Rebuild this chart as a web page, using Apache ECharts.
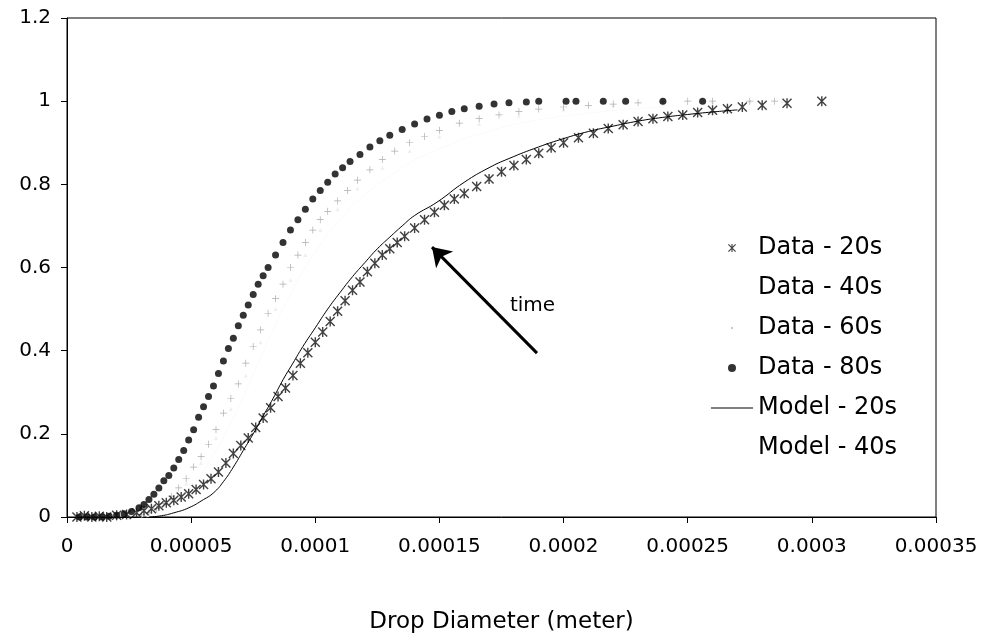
<!DOCTYPE html>
<html>
<head>
<meta charset="utf-8">
<script src="https://cdn.jsdelivr.net/npm/echarts@6/dist/echarts.min.js"></script>
<style>
html,body{margin:0;padding:0;background:#fff;}
#chart{width:994px;height:642px;}
</style>
</head>
<body>
<div id="chart"></div>
<script>
// x values in units of 1e-5 meter, y = cumulative fraction
const data20X = [0.4,0.7,1.0,1.3,1.6,2.0,2.4,2.8,3.1,3.4,3.7,4.0,4.3,4.6,4.9,5.2,5.5,5.8,6.1,6.4,6.7,7.0,7.3,7.6,7.9,8.2,8.5,8.8,9.1,9.4,9.7,10.0,10.3,10.6,10.9,11.2,11.5,11.8,12.1,12.4,12.7,13.0,13.3,13.6,14.0,14.4,14.8,15.2,15.6,16.0,16.5,17.0,17.5,18.0,18.5,19.0,19.5,20.0,20.6,21.2,21.8,22.4,23.0,23.6,24.2,24.8,25.4,26.0,26.6,27.2,28.0,29.0,30.4];
const data20Y = [0,0.003,0,0.002,0,0.004,0.006,0.01,0.015,0.02,0.027,0.034,0.04,0.048,0.056,0.066,0.078,0.092,0.108,0.13,0.153,0.172,0.19,0.215,0.238,0.263,0.29,0.31,0.34,0.37,0.395,0.42,0.445,0.47,0.495,0.52,0.545,0.565,0.59,0.61,0.63,0.645,0.66,0.675,0.695,0.715,0.733,0.75,0.765,0.778,0.795,0.813,0.83,0.845,0.86,0.875,0.888,0.9,0.912,0.923,0.934,0.943,0.951,0.958,0.963,0.967,0.973,0.978,0.982,0.986,0.99,0.995,1.0];

const data40X = [3.0,3.6,4.2,4.8,5.4,6.0,6.6,7.2,7.8,8.4,9.0,9.6,10.2,10.9,11.7,12.7,13.8,15.0,16.6,18.2,20.0,22.0,24.0,26.0,27.5,28.8];
const data40Y = [0.004,0.015,0.04,0.08,0.13,0.19,0.26,0.34,0.42,0.5,0.57,0.63,0.69,0.74,0.79,0.84,0.88,0.915,0.945,0.965,0.98,0.99,0.995,0.998,1.0,1.0];

const data60X = [2.0,2.5,3.0,3.3,3.6,3.9,4.2,4.5,4.8,5.1,5.4,5.7,6.0,6.3,6.6,6.9,7.2,7.5,7.8,8.1,8.4,8.7,9.0,9.3,9.6,9.9,10.2,10.5,10.9,11.3,11.7,12.2,12.7,13.2,13.8,14.4,15.0,15.8,16.6,17.4,18.2,19.0,20.0,21.0,22.0,23.0,24.0,25.0,26.0,27.5,28.5];
const data60Y = [0,0.002,0.006,0.01,0.02,0.032,0.05,0.07,0.092,0.12,0.145,0.175,0.21,0.25,0.285,0.32,0.37,0.41,0.45,0.49,0.525,0.56,0.6,0.63,0.66,0.69,0.715,0.735,0.76,0.785,0.81,0.835,0.86,0.88,0.9,0.915,0.93,0.947,0.958,0.967,0.975,0.981,0.986,0.99,0.993,0.996,0.998,1.0,1.0,1.0,1.0];

const data80X = [0.5,0.8,1.1,1.4,1.7,2.0,2.3,2.6,2.9,3.1,3.3,3.5,3.7,3.9,4.1,4.3,4.5,4.7,4.9,5.1,5.3,5.5,5.7,5.9,6.1,6.3,6.5,6.7,6.9,7.1,7.3,7.5,7.7,7.9,8.1,8.4,8.7,9.0,9.3,9.6,9.9,10.2,10.5,10.8,11.1,11.4,11.8,12.2,12.6,13.0,13.5,14.0,14.5,15.0,15.5,16.0,16.6,17.2,17.8,18.5,19.0,20.1,20.5,21.6,22.5,24.0,25.6];
const data80Y = [0,0,0,0,0.002,0.004,0.008,0.013,0.022,0.03,0.042,0.055,0.07,0.087,0.1,0.118,0.138,0.16,0.185,0.21,0.24,0.265,0.29,0.315,0.345,0.375,0.405,0.43,0.46,0.485,0.51,0.535,0.56,0.58,0.6,0.63,0.66,0.69,0.715,0.74,0.765,0.785,0.805,0.825,0.84,0.855,0.872,0.89,0.905,0.918,0.932,0.945,0.957,0.966,0.975,0.982,0.988,0.993,0.996,0.998,1.0,1.0,1.0,1.0,1.0,1.0,1.0];

const model20X = [3.3,3.8,4.3,4.9,5.5,5.9,6.3,6.7,7.1,7.5,7.9,8.3,8.7,9.1,9.5,10.0,10.5,11.0,11.5,12.0,12.5,13.0,13.5,14.0,14.9,16.0,17.0,17.8,19.0,20.0,21.0,22.0,23.0,24.0,25.0,26.0,27.0];
const model20Y = [0,0.003,0.01,0.022,0.042,0.058,0.085,0.12,0.16,0.2,0.243,0.285,0.33,0.37,0.41,0.455,0.5,0.54,0.578,0.612,0.645,0.673,0.7,0.725,0.757,0.805,0.84,0.862,0.89,0.91,0.927,0.94,0.952,0.961,0.968,0.974,0.979];

const model40X = [3.2,3.8,4.4,5.0,5.6,6.2,6.8,7.4,8.0,8.6,9.2,9.8,10.5,11.5,12.5,14.0,16.0,18.0,20.0,22.0,24.0];
const model40Y = [0,0.01,0.03,0.07,0.12,0.18,0.25,0.33,0.41,0.49,0.56,0.62,0.68,0.75,0.8,0.86,0.91,0.945,0.965,0.978,0.986];

const xTickLabels = ['0','0.00005','0.0001','0.00015','0.0002','0.00025','0.0003','0.00035'];
const yTickLabels = ['0','0.2','0.4','0.6','0.8','1','1.2'];
const seriesNames = ['Data - 20s','Data - 40s','Data - 60s','Data - 80s','Model - 20s','Model - 40s'];
const xAxisTitle = 'Drop Diameter (meter)';
const annotationText = 'time';
// arrow annotation in data units (x in 1e-5 m)
const arrowTail = [18.93, 0.394];
const arrowHead = [14.7, 0.649];
const textPos = [18.75, 0.507];

const E5 = 1e-5;
const pairs = (xs, ys) => xs.map((x, i) => [x * E5, ys[i]]);

const FONT = '"DejaVu Sans", sans-serif';
const starPath = 'path://M4.3,0 h1.4 v10 h-1.4 z M1,0 L10,9 L9,10 L0,1 z M9,0 L10,1 L1,10 L0,9 z';
const plusPath = 'path://M4.5,0 h1 v10 h-1 z M0,4.5 h10 v1 h-10 z';
const lineIcon = 'path://M0,0 H42 V1.2 H0 Z';
const tinyDot = 'path://M0,0 L0.01,0 L0.01,0.01 Z M4,4 h2 v2 h-2 z M9.99,9.99 L10,9.99 L10,10 Z';

const chart = echarts.init(document.getElementById('chart'), null, {renderer: 'canvas'});

const option = {
  animation: false,
  backgroundColor: '#fff',
  grid: {left: 67, right: 58, top: 18, bottom: 125, show: true, borderColor: '#000', borderWidth: 1, backgroundColor: 'transparent'},
  xAxis: {
    type: 'value', min: 0, max: 0.00035, interval: 0.00005,
    name: xAxisTitle, nameLocation: 'middle', nameGap: 94,
    nameTextStyle: {fontFamily: FONT, fontSize: 23, color: '#000'},
    axisLine: {lineStyle: {color: '#000', width: 1}},
    axisTick: {show: true, length: 6, lineStyle: {color: '#000'}},
    axisLabel: {fontFamily: FONT, fontSize: 20, color: '#000', margin: 20,
      formatter: v => xTickLabels[Math.round(v / 0.00005)]},
    splitLine: {show: false}
  },
  yAxis: {
    type: 'value', min: 0, max: 1.2, interval: 0.2,
    axisLine: {show: true, lineStyle: {color: '#000', width: 1}},
    axisTick: {show: true, length: 6, lineStyle: {color: '#000'}},
    axisLabel: {fontFamily: FONT, fontSize: 20, color: '#000', margin: 16,
      formatter: v => yTickLabels[Math.round(v / 0.2)]},
    splitLine: {show: false}
  },
  legend: {
    orient: 'vertical', left: 711, top: 236, padding: 0,
    itemWidth: 42, itemHeight: 8, itemGap: 16, symbolKeepAspect: true,
    textStyle: {fontFamily: FONT, fontSize: 24, color: '#000', lineHeight: 24},
    data: [
      {name: seriesNames[0], icon: starPath, itemStyle: {color: '#111'}},
      {name: seriesNames[1], icon: 'circle', itemStyle: {opacity: 0}},
      {name: seriesNames[2], icon: tinyDot, itemStyle: {color: '#888'}},
      {name: seriesNames[3], icon: 'circle', itemStyle: {color: '#000'}},
      {name: seriesNames[4], icon: lineIcon, itemStyle: {color: '#000'}},
      {name: seriesNames[5], icon: 'circle', itemStyle: {opacity: 0}}
    ]
  },
  series: [
    {name: seriesNames[1], type: 'scatter', symbol: 'triangle', symbolSize: 4,
      itemStyle: {color: '#ebebeb'}, data: pairs(data40X, data40Y), z: 2},
    {name: seriesNames[5], type: 'line', showSymbol: false, symbol: 'none',
      lineStyle: {color: '#fafafa', width: 1}, itemStyle: {color: '#fafafa'}, data: pairs(model40X, model40Y), z: 1},
    {name: seriesNames[2], type: 'scatter', symbol: plusPath, symbolSize: 7,
      itemStyle: {color: '#999'}, data: pairs(data60X, data60Y), z: 3},
    {name: seriesNames[3], type: 'scatter', symbol: 'circle', symbolSize: 7,
      itemStyle: {color: '#000'}, data: pairs(data80X, data80Y), z: 4},
    {name: seriesNames[0], type: 'scatter', symbol: starPath, symbolSize: 10,
      itemStyle: {color: '#111'}, data: pairs(data20X, data20Y), z: 4},
    {name: seriesNames[4], type: 'line', showSymbol: false, symbol: 'none', smooth: true,
      lineStyle: {color: '#000', width: 1}, itemStyle: {color: '#000'}, data: pairs(model20X, model20Y), z: 5,
      markLine: {
        silent: true, symbol: ['none', 'arrow'], symbolSize: 18,
        lineStyle: {color: '#000', width: 3, type: 'solid'}, label: {show: false},
        data: [[{coord: [arrowTail[0] * E5, arrowTail[1]]}, {coord: [arrowHead[0] * E5, arrowHead[1]]}]]
      },
      markPoint: {
        silent: true, symbol: 'circle', symbolSize: 0,
        label: {show: true, formatter: annotationText, color: '#000', fontFamily: FONT, fontSize: 20, position: 'inside'},
        data: [{coord: [textPos[0] * E5, textPos[1]]}]
      }
    }
  ]
};
chart.setOption(option);
</script>
</body>
</html>
